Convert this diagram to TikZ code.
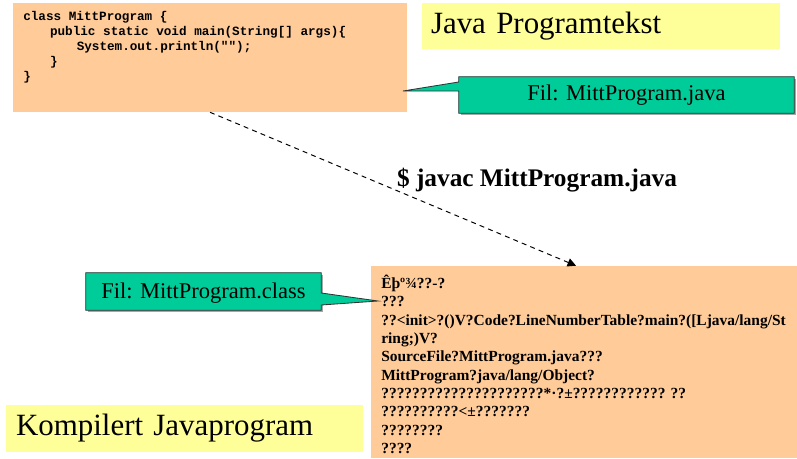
\documentclass[tikz,border=0pt]{standalone}
\usepackage{fontspec}
\setmainfont{Liberation Serif}
\setmonofont{Liberation Mono}
\usepackage{tikz}
\usetikzlibrary{arrows.meta}
\definecolor{peach}{RGB}{255, 204, 153}
\definecolor{paleyellow}{RGB}{255, 255, 153}
\definecolor{seagreen}{RGB}{0, 204, 153}
\definecolor{edgegray}{RGB}{51, 51, 51}

\begin{document}
\begin{tikzpicture}[
        peachbox/.style={fill=peach, inner sep=0pt},
        notebox/.style={fill=paleyellow, inner ysep=0pt, align=left, font=\fontsize{22}{26}\selectfont},
        calloutfill/.style={fill=seagreen, draw=edgegray, line width=0.6pt, line join=miter},
        calloutshadow/.style={fill=gray!70},
        calloutlabel/.style={font=\fontsize{16}{19}\selectfont, inner sep=0pt}
    ]
            \useasboundingbox (0,0) rectangle (19.925,11.45);

            % source file
            \node[peachbox, minimum width=9.85cm, minimum height=2.725cm] (src) at ( 5.25, 10.0125) {};
            \node[anchor=north west, inner sep=0pt, align=left,
                  font=\ttfamily\bfseries\fontsize{9}{10.7}\selectfont] (code) at ( 0.575, 11.18)
                 {class MittProgram \{\\
                  \hspace*{4ex}public static void main(String[] args)\{\\
                  \hspace*{8ex}System.out.println("");\\
                  \hspace*{4ex}\}\\
                  \}};
            \node[notebox, inner xsep=0.225cm, text width=8.5cm, minimum height=1.15cm] (srctitle) at (15.025, 10.8) {Java Programtekst};

            % compiled file
            \node[peachbox, minimum width=10.65cm, minimum height=4.8cm] (cls) at (14.6, 2.4) {};
            \node[anchor=north west, inner sep=0pt, align=left,
                  font=\bfseries\fontsize{11}{13.05}\selectfont] (bytes) at ( 9.525, 4.58)
                 {Êþº¾??-?\\
                  ???\\
                  ??<init>?()V?Code?LineNumberTable?main?([Ljava/lang/St\\
                  ring;)V?\\
                  SourceFile?MittProgram.java???\\
                  MittProgram?java/lang/Object?\\
                  ?????????????????????*·?±???????????? ??\\
                  ??????????<±???????\\
                  ????????\\
                  ????};
            \node[notebox, inner xsep=0.25cm, text width=8.425cm, minimum height=1.175cm] (clstitle) at ( 4.6125, 0.7375) {Kompilert Javaprogram};

            % callout for the source file
            \node[minimum width=8.375cm, minimum height=0.9cm, inner sep=0pt] (javafil) at (15.6625, 9.075) {};
            \coordinate (javatip) at (10.075, 9.175);
            \fill[calloutshadow] ([shift={(0.05,-0.05)}]javafil.south west) rectangle ([shift={(0.05,-0.05)}]javafil.north east);
            \filldraw[calloutfill] (javafil.north west) -- ([yshift=0.325cm]javafil.west) -- (javatip)
                 -- ([yshift=0.1cm]javafil.west) -- (javafil.south west) -- (javafil.south east) -- (javafil.north east) -- cycle;
            \node[calloutlabel] (javatext) at (javafil) {Fil: MittProgram.java};

            % callout for the class file
            \node[minimum width=5.875cm, minimum height=0.925cm, inner sep=0pt] (classfil) at ( 5.0875, 4.1625) {};
            \coordinate (classtip) at ( 9.45, 3.925);
            \fill[calloutshadow] ([shift={(0.05,-0.05)}]classfil.south west) rectangle ([shift={(0.05,-0.05)}]classfil.north east);
            \filldraw[calloutfill] (classfil.north west) -- (classfil.north east) -- ([yshift=-0.0375cm]classfil.east) -- (classtip)
                 -- ([yshift=-0.3375cm]classfil.east) -- (classfil.south east) -- (classfil.south west) -- cycle;
            \node[calloutlabel] (classtext) at ([yshift=-0.03cm]classfil) {Fil: MittProgram.class};

            % compile step
            \draw[line width=0.7pt, dash pattern=on 3.5pt off 3pt, -{Triangle[length=6pt, width=6pt]}]
                 (src.south) -- ([xshift=-0.2cm]cls.north);
            \node[font=\bfseries\fontsize{18}{21}\selectfont, inner sep=0pt] (javac) at (13.425, 6.95) {\$ javac MittProgram.java};
        \end{tikzpicture}
\end{document}
